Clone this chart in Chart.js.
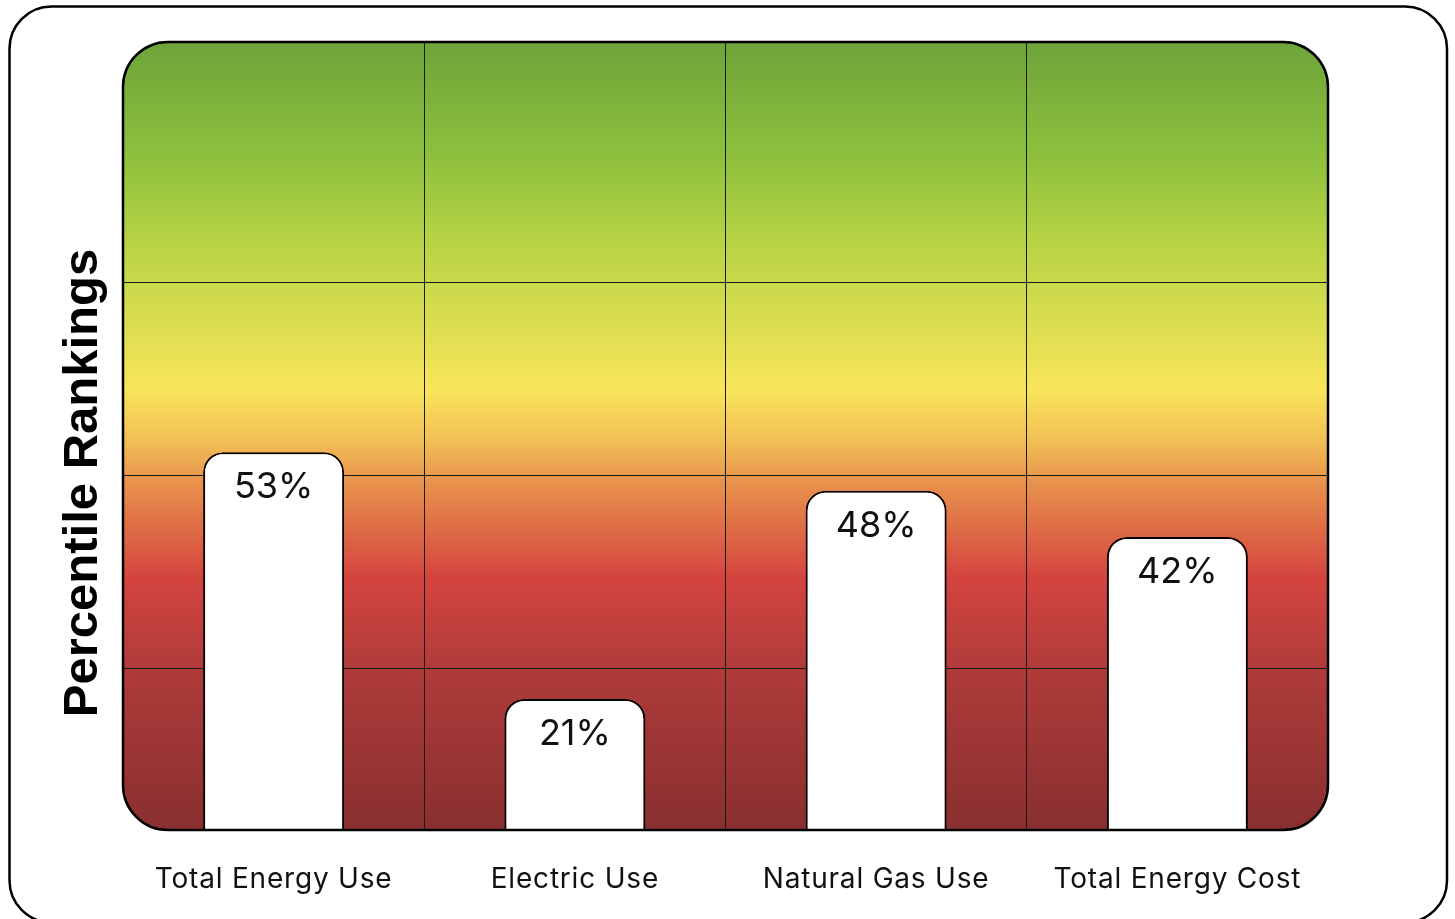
<!DOCTYPE html>
<html>
<head>
<meta charset="utf-8">
<title>Percentile Rankings</title>
<script src="https://cdn.jsdelivr.net/npm/chart.js@4.4.1/dist/chart.umd.min.js"></script>
<style>
  html, body { margin: 0; padding: 0; background: #ffffff; }
  #wrap { width: 1455px; height: 919px; position: relative; }
</style>
</head>
<body>
<div id="wrap"><canvas id="chart" width="1455" height="919"></canvas></div>
<script>
// Categories and percentile values
const categories = ['Total Energy Use', 'Electric Use', 'Natural Gas Use', 'Total Energy Cost'];
const percentiles = [53, 21, 48, 42];
// Horizontal guide lines (percentile values)
const gridValues = [25, 50, 75];
// Value-axis range
const yMin = 4;
const yMax = 106.2;

// Background colour bands, top (best) to bottom (worst)
const bandStops = [
  [0.00, '#6ea43a'],
  [0.14, '#8cbf3d'],
  [0.25, '#b5d344'],
  [0.44, '#f8e55a'],
  [0.50, '#f3c356'],
  [0.56, '#e8914c'],
  [0.68, '#d4443f'],
  [0.80, '#ae3b3a'],
  [1.00, '#892f2f']
];

const textFont = 'Inter, Lato, sans-serif';

function roundRectPath(ctx, x, y, w, h, r) {
  ctx.beginPath();
  ctx.moveTo(x + r, y);
  ctx.lineTo(x + w - r, y);
  ctx.arcTo(x + w, y, x + w, y + r, r);
  ctx.lineTo(x + w, y + h - r);
  ctx.arcTo(x + w, y + h, x + w - r, y + h, r);
  ctx.lineTo(x + r, y + h);
  ctx.arcTo(x, y + h, x, y + h - r, r);
  ctx.lineTo(x, y + r);
  ctx.arcTo(x, y, x + r, y, r);
  ctx.closePath();
}

const panelPlugin = {
  id: 'panel',
  beforeDraw(chart) {
    const ctx = chart.ctx;
    const a = chart.chartArea;
    ctx.save();
    ctx.fillStyle = '#ffffff';
    ctx.fillRect(0, 0, chart.width, chart.height);
    // outer card
    roundRectPath(ctx, 9.5, 6.5, 1437.5, 916, 42);
    ctx.lineWidth = 2.5;
    ctx.strokeStyle = '#000000';
    ctx.stroke();
    // colour-banded plot background
    const g = ctx.createLinearGradient(0, a.top, 0, a.bottom);
    bandStops.forEach(s => g.addColorStop(s[0], s[1]));
    roundRectPath(ctx, a.left, a.top, a.right - a.left, a.bottom - a.top, 45);
    ctx.fillStyle = g;
    ctx.fill();
    ctx.restore();
    // slightly open tracking for the category labels
    ctx.letterSpacing = '0.8px';
  },
  beforeDatasetsDraw(chart) {
    chart.ctx.letterSpacing = '0px';
  },
  afterDatasetsDraw(chart) {
    const ctx = chart.ctx;
    const a = chart.chartArea;
    ctx.save();
    // plot frame
    roundRectPath(ctx, a.left, a.top, a.right - a.left, a.bottom - a.top, 45);
    ctx.lineWidth = 2.5;
    ctx.strokeStyle = '#000000';
    ctx.stroke();
    // value labels inside bars
    const meta = chart.getDatasetMeta(0);
    ctx.fillStyle = '#111111';
    ctx.font = '400 36px ' + textFont;
    ctx.textAlign = 'center';
    ctx.textBaseline = 'alphabetic';
    meta.data.forEach((bar, i) => {
      const v = chart.data.datasets[0].data[i];
      ctx.fillText(v + '%', bar.x, bar.y + 46);
    });
    // axis title
    ctx.translate(97, 483);
    ctx.rotate(-Math.PI / 2);
    ctx.font = 'bold 49px "Liberation Sans", Arial, sans-serif';
    ctx.fillStyle = '#000000';
    ctx.textAlign = 'center';
    ctx.textBaseline = 'alphabetic';
    ctx.fillText('Percentile Rankings', 0, 0);
    ctx.restore();
  }
};

new Chart(document.getElementById('chart'), {
  type: 'bar',
  data: {
    labels: categories,
    datasets: [{
      data: percentiles,
      backgroundColor: '#ffffff',
      borderColor: '#000000',
      borderWidth: 2,
      borderSkipped: 'bottom',
      borderRadius: { topLeft: 20, topRight: 20, bottomLeft: 0, bottomRight: 0 },
      barPercentage: 0.468,
      categoryPercentage: 1.0,
      clip: 0
    }]
  },
  options: {
    responsive: false,
    devicePixelRatio: 1,
    animation: false,
    layout: { padding: { left: 123, right: 127, top: 42, bottom: 0 } },
    plugins: {
      legend: { display: false },
      tooltip: { enabled: false }
    },
    scales: {
      x: {
        border: { display: false },
        grid: {
          offset: true,
          drawTicks: false,
          lineWidth: 1,
          // only the dividers between categories; the frame covers the outer edges
          color: ctx => (ctx.type !== 'tick' || ctx.index === 0) ? 'rgba(0,0,0,0)' : '#1a1a1a'
        },
        ticks: {
          color: '#111111',
          font: { family: textFont, size: 28, weight: '400' },
          padding: 33,
          maxRotation: 0,
          autoSkip: false
        },
        afterFit: s => { s.height = 89; }
      },
      y: {
        min: yMin,
        max: yMax,
        border: { display: false },
        grid: { drawTicks: false, lineWidth: 1, color: '#1a1a1a' },
        ticks: { display: false },
        afterBuildTicks: s => { s.ticks = gridValues.map(v => ({ value: v })); },
        afterFit: s => { s.width = 0; }
      }
    }
  },
  plugins: [panelPlugin]
});
</script>
</body>
</html>
